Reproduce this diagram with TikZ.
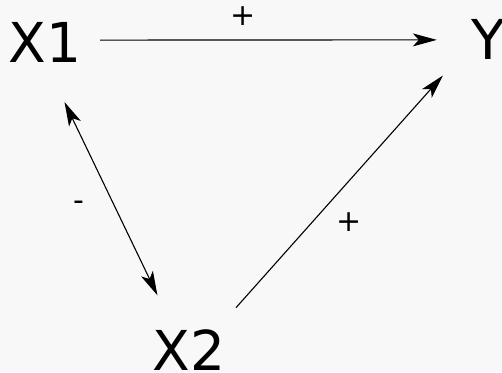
\documentclass[tikz,border=0pt]{standalone}
\usepackage{fontspec}
\setmainfont{DejaVu Sans}
\usepackage{tikz}
\usetikzlibrary{arrows.meta,shapes.geometric}
\definecolor{bggray}{RGB}{248,248,248}

\begin{document}
\begin{tikzpicture}[x=1pt, y=-1pt, >={Stealth[length=24pt,width=13pt,inset=6pt]},
    var/.style={ellipse, inner sep=0pt, font=\fontsize{55}{60}\selectfont},
    sign/.style={inner sep=0pt, font=\fontsize{30}{34}\selectfont}]
    % Background and frame
    \fill[bggray] (0,0) rectangle (502,372);
    \useasboundingbox (0,0) rectangle (502,372);
    \clip (0,0) rectangle (502,372);
    % Variables
    \node[var, minimum width=110pt, minimum height=128pt] (X1) at (45,42) {X1};
    \node[var, minimum width=102pt, minimum height=154pt] (Y) at (488,39) {Y};
    \node[var, minimum size=126pt] (X2) at (189,350) {X2};
    % Paths
    \draw[line width=1.1pt, ->] (X1.2) -- (Y.181);
    \draw[line width=1.1pt, <->] (X1.-72) -- (X2.120);
    \draw[line width=1.1pt, ->] (X2.42) -- (Y.-141);
    % Signs
    \node[sign] (s1) at (243,16) {+};
    \node[sign] (s2) at (78.5,206) {-};
    \node[sign] (s3) at (349.5,222) {+};
\end{tikzpicture}
\end{document}
